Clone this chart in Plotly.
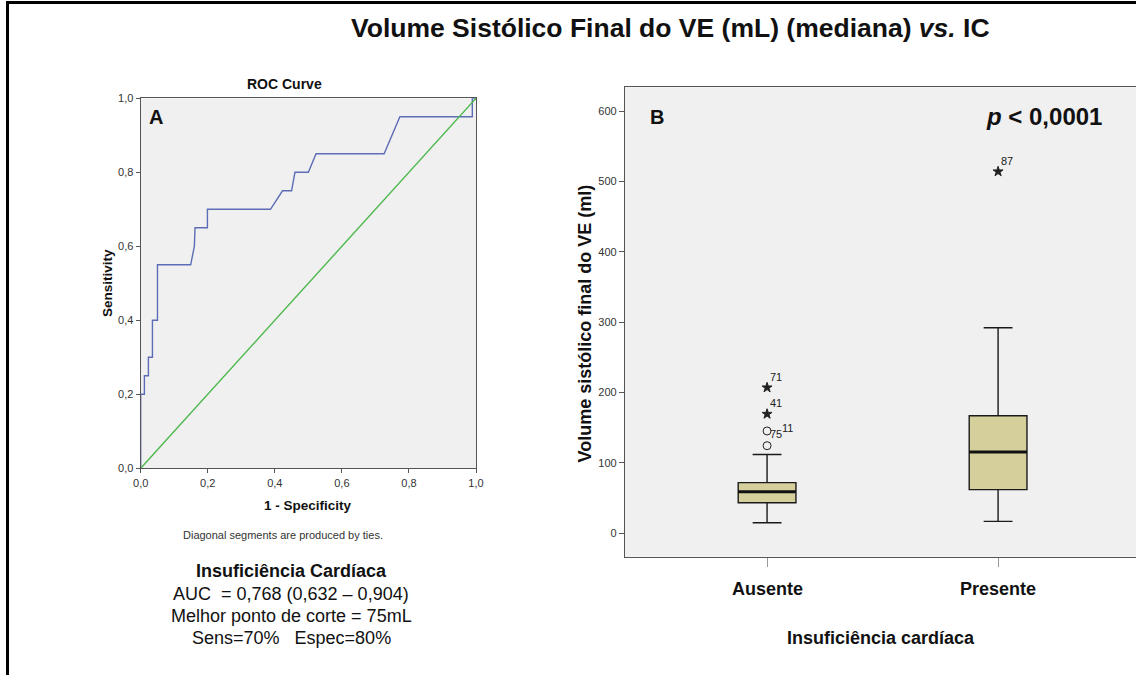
import plotly.graph_objects as go

# ---------------- data ----------------
# Panel A: ROC curve (1 - specificity, sensitivity)
roc_fpr = [0, 0, 0.011, 0.011, 0.023, 0.023, 0.035, 0.035, 0.05, 0.05, 0.149, 0.16, 0.162,
           0.199, 0.199, 0.387, 0.423, 0.45, 0.46, 0.5, 0.523, 0.726, 0.773, 0.989, 0.989, 1.0]
roc_tpr = [0, 0.2, 0.2, 0.25, 0.25, 0.3, 0.3, 0.4, 0.4, 0.55, 0.55, 0.6, 0.65,
           0.65, 0.7, 0.7, 0.75, 0.75, 0.8, 0.8, 0.85, 0.85, 0.95, 0.95, 1.0, 1.0]
ref_x = [0, 1]
ref_y = [0, 1]
roc_ticks = [0, 0.2, 0.4, 0.6, 0.8, 1.0]
roc_ticktext = ["0,0", "0,2", "0,4", "0,6", "0,8", "1,0"]

# Panel B: box plot of end-systolic volume
groups = ["Ausente", "Presente"]
q1 = [43.5, 62]
median = [59, 115.5]
q3 = [72, 167]
lower_whisker = [15, 17]
upper_whisker = [112, 292]
outlier_group = [0, 0, 0, 0, 1]
outlier_value = [124.5, 145.4, 169.5, 207, 514]
outlier_kind = ["o", "o", "*", "*", "*"]
outlier_id = ["11", "75", "41", "71", "87"]
box_ticks = [0, 100, 200, 300, 400, 500, 600]

# ---------------- layout helpers ----------------
W, H = 1136, 675
def px(x):
    return x / W
def py(y):
    return 1 - y / H

ARIAL = "Arial, Liberation Sans, sans-serif"
NARROW = "Liberation Sans Narrow, Arial Narrow, Arial, sans-serif"
AXC = "#555555"

fig = go.Figure()

# ROC traces
fig.add_trace(go.Scatter(x=roc_fpr, y=roc_tpr, mode="lines",
                         line=dict(color="#5d6db5", width=1.4),
                         xaxis="x", yaxis="y", showlegend=False, hoverinfo="skip"))
fig.add_trace(go.Scatter(x=ref_x, y=ref_y, mode="lines",
                         line=dict(color="#4cb84c", width=1.4),
                         xaxis="x", yaxis="y", showlegend=False, hoverinfo="skip"))

# Box plot
BOXW = 0.25
for i, g in enumerate(groups):
    fig.add_trace(go.Box(x=[i], q1=[q1[i]], median=[median[i]], q3=[q3[i]],
                         lowerfence=[lower_whisker[i]], upperfence=[upper_whisker[i]],
                         width=BOXW, whiskerwidth=0.5, boxpoints=False,
                         fillcolor="#d5d09b", line=dict(color="#1a1a1a", width=1.4),
                         xaxis="x2", yaxis="y2", showlegend=False, hoverinfo="skip", name=g))
    fig.add_trace(go.Scatter(x=[i - BOXW / 2, i + BOXW / 2], y=[median[i], median[i]],
                             mode="lines", line=dict(color="#111111", width=3),
                             xaxis="x2", yaxis="y2", showlegend=False, hoverinfo="skip"))

for kind, sym, size in [("o", "circle-open", 8), ("*", "star", 7.5)]:
    xs = [outlier_group[k] for k in range(len(outlier_value)) if outlier_kind[k] == kind]
    ys = [outlier_value[k] for k in range(len(outlier_value)) if outlier_kind[k] == kind]
    fig.add_trace(go.Scatter(x=xs, y=ys, mode="markers",
                             marker=dict(symbol=sym, size=size, color="#222222",
                                         line=dict(color="#222222", width=1)),
                             xaxis="x2", yaxis="y2", showlegend=False, hoverinfo="skip"))

annotations = []
# outlier labels (pixel offsets from each point)
label_shift = {"11": (20, 18), "75": (9, -3), "41": (9, 11), "71": (9, 11), "87": (9, 11)}
for k in range(len(outlier_value)):
    dx, dy = label_shift[outlier_id[k]]
    annotations.append(dict(x=outlier_group[k], y=outlier_value[k], xref="x2", yref="y2",
                            text=outlier_id[k], showarrow=False, xshift=dx, yshift=dy,
                            font=dict(family=NARROW, size=11, color="#222")))

# category labels
for i, g in enumerate(groups):
    annotations.append(dict(x=i, y=py(588.5), xref="x2", yref="paper", text="<b>%s</b>" % g,
                            showarrow=False, xanchor="center", yanchor="middle",
                            font=dict(family=ARIAL, size=18, color="#111")))

def ann(x, y, text, size, angle=0, color="#111", family=ARIAL):
    annotations.append(dict(x=px(x), y=py(y), xref="paper", yref="paper", text=text,
                            showarrow=False, xanchor="center", yanchor="middle",
                            textangle=angle, font=dict(family=family, size=size, color=color)))

ann(670, 28, "<b>Volume Sistólico Final do VE (mL) (mediana) <i>vs.</i> IC</b>", 26.5)
ann(284, 84, "<b>ROC Curve</b>", 14)
ann(155.5, 116.7, "<b>A</b>", 20)
ann(107, 283, "<b>Sensitivity</b>", 13.5, angle=-90)
ann(308, 505.5, "<b>1 - Specificity</b>", 13.5)
ann(283, 535, "Diagonal segments are produced by ties.", 11, color="#333")
ann(291, 571, "<b>Insuficiência Cardíaca</b>", 18)
ann(291, 594, "AUC  = 0,768 (0,632 – 0,904)", 18)
ann(291, 616, "Melhor ponto de corte = 75mL", 18)
ann(291, 637.5, "Sens=70%   Espec=80%", 18)
ann(657, 116.7, "<b>B</b>", 20)
ann(1044, 116.7, "<b><i>p</i> &lt; 0,0001</b>", 24)
ann(584, 323.5, "<b>Volume sistólico final do VE (ml)</b>", 18, angle=-90)
ann(881, 638, "<b>Insuficiência cardíaca</b>", 18)

# outer frame: a large bordered box whose left and top edges fall inside the picture
annotations.append(dict(x=px(6), y=py(1), xref="paper", yref="paper", text=" ",
                        showarrow=False, xanchor="left", yanchor="top",
                        width=1300, height=760, borderwidth=3, bordercolor="black",
                        borderpad=0, bgcolor="rgba(0,0,0,0)"))

fig.update_layout(
    width=W, height=H,
    margin=dict(l=0, r=0, t=0, b=0),
    paper_bgcolor="white", plot_bgcolor="#f0f0f0",
    showlegend=False,
    xaxis=dict(domain=[px(140.7), px(476)], range=[0, 1], showgrid=False, zeroline=False,
               showline=True, mirror=True, linecolor=AXC, linewidth=1.2,
               ticks="outside", ticklen=4, tickcolor=AXC,
               tickvals=roc_ticks, ticktext=roc_ticktext, automargin=False,
               tickfont=dict(family=NARROW, size=11, color="#333"), anchor="y"),
    yaxis=dict(domain=[py(468.3), py(98.3)], range=[0, 1], showgrid=False, zeroline=False,
               showline=True, mirror=True, linecolor=AXC, linewidth=1.2,
               ticks="outside", ticklen=4, tickcolor=AXC,
               tickvals=roc_ticks, ticktext=roc_ticktext, automargin=False,
               tickfont=dict(family=NARROW, size=11, color="#333"), anchor="x"),
    xaxis2=dict(domain=[px(625), 1.0], range=[-0.615, 1.597], showgrid=False, zeroline=False,
                showline=True, mirror=True, linecolor=AXC, linewidth=1.2,
                tickvals=[0, 1], showticklabels=False, ticks="outside", ticklen=9,
                tickcolor="#999", automargin=False, anchor="y2"),
    yaxis2=dict(domain=[py(556.7), py(87.3)], range=[-33.25, 633.7], showgrid=False,
                zeroline=False, showline=True, linecolor=AXC, linewidth=1.2,
                ticks="outside", ticklen=5, tickcolor=AXC, tickvals=box_ticks,
                automargin=False, tickfont=dict(family=NARROW, size=11, color="#333"),
                anchor="x2"),
    annotations=annotations,
)

fig.write_html("out.html")
